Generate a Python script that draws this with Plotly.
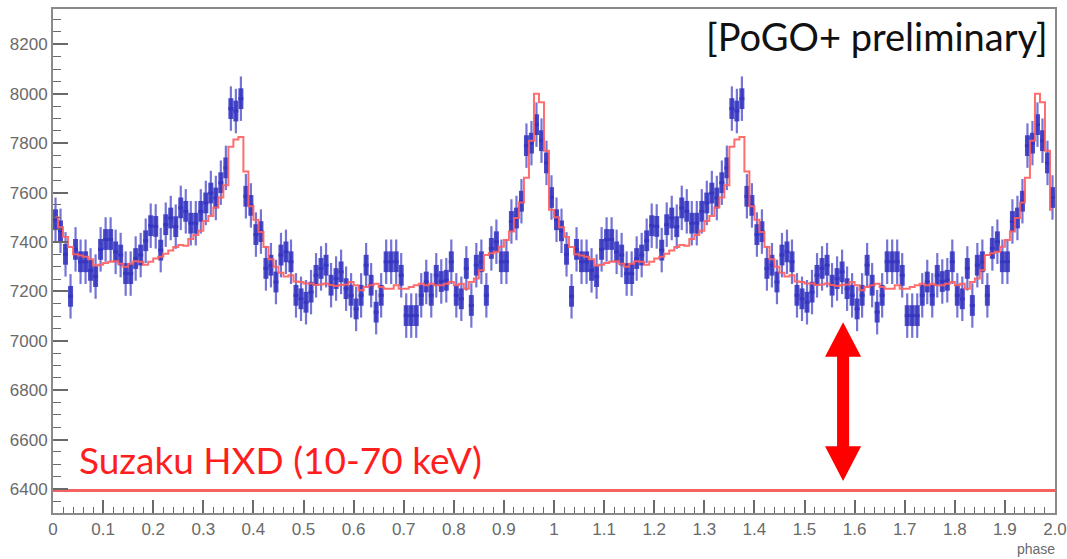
import numpy as np
import plotly.graph_objects as go

# ---------------- data ----------------
# PoGO+ phase-folded counts, 100 bins per rotation (phase 0-1); the figure shows two rotations
pogo_counts = [
    7490, 7445, 7350, 7180, 7370, 7320, 7320, 7285, 7260, 7370,
    7410, 7410, 7360, 7347, 7272, 7272, 7333, 7347, 7405, 7466,
    7463, 7367, 7470, 7497, 7462, 7538, 7524, 7476, 7476, 7524,
    7558, 7598, 7578, 7640, 7700, 7940, 7930, 7980, 7585, 7548,
    7430, 7442, 7293, 7306, 7238, 7347, 7360, 7320, 7184, 7170,
    7156, 7197, 7265, 7293, 7306, 7225, 7252, 7279, 7211, 7184,
    7129, 7184, 7306, 7225, 7116, 7184, 7320, 7320, 7320, 7265,
    7102, 7102, 7102, 7184, 7238, 7184, 7265, 7240, 7245, 7320,
    7184, 7170, 7293, 7143, 7306, 7320, 7184, 7374, 7401, 7320,
    7320, 7483, 7497, 7565, 7790, 7800, 7875, 7810, 7720, 7580,
]
# Suzaku HXD (10-70 keV) template profile, scaled, same binning
suzaku_profile = [
    7500, 7460, 7420, 7380, 7350, 7345, 7340, 7330, 7305, 7308,
    7315, 7320, 7322, 7312, 7300, 7312, 7322, 7320, 7308, 7320,
    7333, 7340, 7352, 7365, 7380, 7388, 7385, 7412, 7428, 7445,
    7485, 7505, 7540, 7580, 7630, 7785, 7815, 7825, 7685, 7545,
    7490, 7440, 7380, 7330, 7300, 7275, 7260, 7265, 7240, 7238,
    7232, 7232, 7226, 7228, 7232, 7226, 7222, 7226, 7228, 7238,
    7225, 7205, 7218, 7225, 7231, 7218, 7211, 7211, 7225, 7211,
    7211, 7218, 7225, 7231, 7225, 7231, 7225, 7225, 7231, 7238,
    7225, 7231, 7211, 7238, 7252, 7286, 7347, 7354, 7360, 7381,
    7408, 7442, 7497, 7560, 7660, 7810, 8000, 7966, 7769, 7530,
]
n_rotations = 2
bin_width = 0.01
count_error = 90          # half-length of the thin error bars
box_halfheight = 42       # half-height of the thick bar drawn at each bin
suzaku_level = 6394       # red horizontal reference line
arrow_phase = 1.577
arrow_top = 7075
arrow_bottom = 6433

x_tick_vals = [round(0.1 * i, 1) for i in range(21)]
x_tick_text = ["0", "0.1", "0.2", "0.3", "0.4", "0.5", "0.6", "0.7", "0.8", "0.9",
               "1", "1.1", "1.2", "1.3", "1.4", "1.5", "1.6", "1.7", "1.8", "1.9", "2.0"]
y_tick_vals = [6400, 6600, 6800, 7000, 7200, 7400, 7600, 7800, 8000, 8200]

# ---------------- build ----------------
n_bins = len(pogo_counts) * n_rotations
phase = (np.arange(n_bins) + 0.5) * bin_width
counts = np.tile(pogo_counts, n_rotations)
model = np.tile(suzaku_profile, n_rotations)

BLUE = "rgb(52,52,192)"
RED = "rgb(255,95,95)"
GRAY = "#6a6a6a"

fig = go.Figure()

fig.add_trace(go.Scatter(
    x=[0, 2], y=[suzaku_level, suzaku_level], mode="lines",
    line=dict(color="rgba(245,70,70,0.85)", width=3), hoverinfo="skip"))

# thin error bars
fig.add_trace(go.Scatter(
    x=phase, y=counts, mode="markers",
    marker=dict(size=1, color=BLUE, opacity=0),
    error_y=dict(type="constant", value=count_error, width=0, thickness=2.2,
                 color="rgba(70,70,200,0.75)"),
    hoverinfo="skip",
))
# thick bin bars
fig.add_trace(go.Scatter(
    x=phase, y=counts, mode="markers",
    marker=dict(size=1, color=BLUE),
    error_y=dict(type="constant", value=box_halfheight, width=0, thickness=5,
                 color="rgba(52,52,192,0.88)"),
    error_x=dict(type="constant", value=bin_width / 2, width=0, thickness=3,
                 color="rgba(52,52,192,0.88)"),
))

fig.add_trace(go.Scatter(
    x=phase, y=model, mode="lines", line_shape="hvh",
    line=dict(color=RED, width=2), opacity=0.9))

# double-headed arrow
hw_head, hw_shaft, head_len = 0.036, 0.012, 140
a = arrow_phase
path = (f"M {a},{arrow_top} L {a+hw_head},{arrow_top-head_len} L {a+hw_shaft},{arrow_top-head_len} "
        f"L {a+hw_shaft},{arrow_bottom+head_len} L {a+hw_head},{arrow_bottom+head_len} "
        f"L {a},{arrow_bottom} L {a-hw_head},{arrow_bottom+head_len} L {a-hw_shaft},{arrow_bottom+head_len} "
        f"L {a-hw_shaft},{arrow_top-head_len} L {a-hw_head},{arrow_top-head_len} Z")
fig.add_shape(type="path", path=path, xref="x", yref="y",
              fillcolor="rgb(255,0,0)", line=dict(width=0))

fig.add_annotation(text="[PoGO+ preliminary]", xref="paper", yref="paper",
                   x=0.995, y=0.946, xanchor="right", yanchor="middle", showarrow=False,
                   font=dict(family="Lato", size=38, color="#111111"))
fig.add_annotation(text="Suzaku HXD (10-70 keV)", xref="paper", yref="paper",
                   x=0.0235, y=0.106, xanchor="left", yanchor="middle", showarrow=False,
                   font=dict(family="Lato", size=37, color="rgb(255,30,30)"))
fig.add_annotation(text="phase", xref="paper", yref="paper",
                   x=1.002, y=-0.071, xanchor="right", yanchor="middle", showarrow=False,
                   font=dict(family="Liberation Sans", size=14, color=GRAY))

fig.update_layout(
    width=1067, height=559,
    margin=dict(l=53, r=12, t=9, b=46, autoexpand=False),
    paper_bgcolor="white", plot_bgcolor="white",
    showlegend=False,
)
fig.update_xaxes(
    range=[0, 2], tickmode="array", tickvals=x_tick_vals, ticktext=x_tick_text,
    automargin=False,
    ticks="inside", ticklen=13, tickwidth=1.5, tickcolor=GRAY,
    showline=True, linecolor="#8a8a8a", linewidth=2, mirror=True,
    showgrid=False, zeroline=False,
    tickfont=dict(family="Liberation Sans", size=17, color=GRAY),
    minor=dict(tickmode="linear", tick0=0, dtick=0.02, ticks="inside", ticklen=6,
               tickwidth=1.2, tickcolor=GRAY, showgrid=False),
)
fig.update_yaxes(
    range=[6303, 8343], tickmode="array", tickvals=y_tick_vals,
    automargin=False,
    ticks="inside", ticklen=15, tickwidth=1.5, tickcolor=GRAY,
    showline=True, linecolor="#8a8a8a", linewidth=2, mirror=True,
    showgrid=False, zeroline=False,
    tickfont=dict(family="Liberation Sans", size=17, color=GRAY),
    minor=dict(tickmode="linear", tick0=6300, dtick=50, ticks="inside", ticklen=8,
               tickwidth=1.2, tickcolor=GRAY, showgrid=False),
)

fig.write_html("out.html")
